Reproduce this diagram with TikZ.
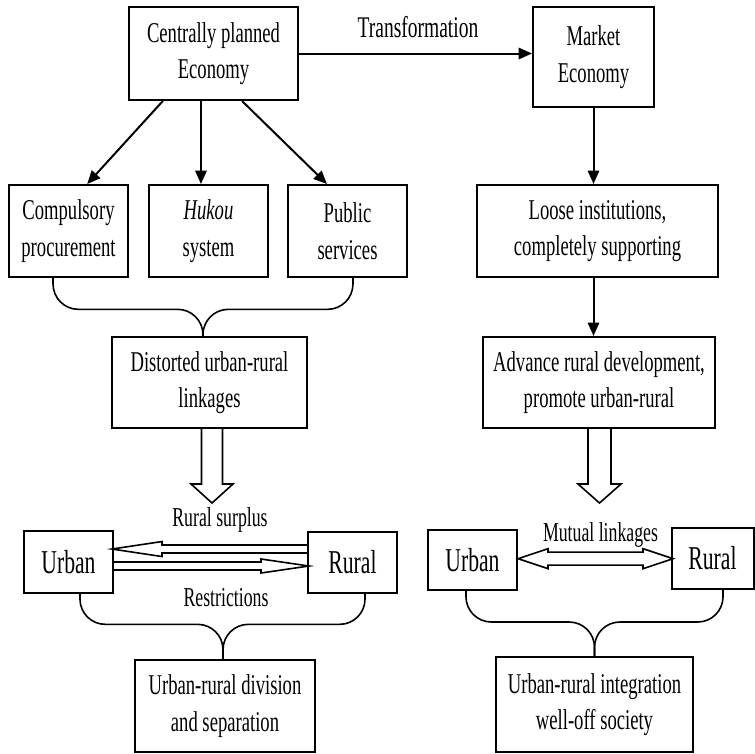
\documentclass[tikz,border=0pt]{standalone}
\usepackage{fontspec}
\setmainfont[FakeStretch=0.65]{Liberation Serif}
\usetikzlibrary{arrows.meta}

\tikzset{
  box/.style={draw, line width=1.5pt, align=center, inner sep=0pt,
    font=\fontsize{21.5}{27.5}\selectfont},
  place/.style={draw, line width=1.5pt, inner sep=0pt,
    minimum width=66.75pt, minimum height=46pt, font=\fontsize{25}{30}\selectfont},
  lbl/.style={anchor=base, inner sep=0pt, font=\fontsize{20.5}{24}\selectfont},
  arr/.style={line width=1.5pt, -{Triangle[length=10pt,width=8.5pt]}},
  brace/.style={line width=1.2pt, rounded corners=19pt},
  fat/.style={line width=1.2pt, line join=miter},
}

\begin{document}
\begin{tikzpicture}[x=0.75pt, y=-0.75pt]
\useasboundingbox (0,0) rectangle (755,753);

% top row
\node[box, minimum width=126.75pt, minimum height=69.75pt] (plan) at (213.5,53.5)
  {Centrally planned\\Economy};
\node[box, minimum width=90.75pt, minimum height=75pt] (market) at (593.5,57)
  {Market\\Economy};
\node[lbl, font=\fontsize{22.5}{26}\selectfont] (trans) at (418,37) {Transformation};

\draw[arr] (plan.east) -- (plan.east -| market.west);

% institutions
\node[box, minimum width=89.25pt, minimum height=69pt] (compul) at (68.5,231)
  {Compulsory\\procurement};
\node[box, minimum width=89.25pt, minimum height=69pt] (hukou) at (208.5,231)
  {\textit{Hukou}\\system};
\node[box, minimum width=89.25pt, minimum height=69pt] (public) at (347.5,231)
  {Public\\services};
\node[box, minimum width=180.75pt, minimum height=69pt] (loose) at (597.5,231)
  {Loose institutions,\\completely supporting};

\draw[arr] ([xshift=-38pt]plan.south) -- ([xshift=14pt]compul.north);
\draw[arr] ([xshift=-9.4pt]plan.south) -- ([xshift=-9.4pt]plan.south |- hukou.north);
\draw[arr] ([xshift=21.4pt]plan.south) -- ([xshift=-15.4pt]public.north);
\draw[arr] (market.south) -- (market.south |- loose.north);

% linkages
\node[box, minimum width=146.25pt, minimum height=68.25pt] (distort) at (209.5,382.5)
  {Distorted urban-rural\\linkages};
\node[box, minimum width=174pt, minimum height=68.25pt] (advance) at (599,382.5)
  {Advance rural development,\\promote urban-rural};

\draw[brace] ([xshift=-11.6pt]compul.south) |- ([xshift=-4.9pt,yshift=20pt]distort.north)
  -- ([xshift=-4.9pt]distort.north);
\draw[brace] ([xshift=4.1pt]public.south) |- ([xshift=-4.9pt,yshift=20pt]distort.north)
  -- ([xshift=-4.9pt]distort.north);
\draw[arr] (market.south |- loose.south) -- (market.south |- advance.north);

% hollow arrows down
\draw[fat] ([xshift=-6pt]distort.south) -- ++(0,55) -- ++(-10.5,0) -- ++(21,19)
  -- ++(21,-19) -- ++(-10.5,0) -- ++(0,-55);
\draw[fat] ([xshift=-8.25pt]advance.south) -- ++(0,55) -- ++(-10,0) -- ++(21.5,19)
  -- ++(21.5,-19) -- ++(-10,0) -- ++(0,-55);

% urban and rural
\node[place, minimum height=46.5pt] (urbanL) at (68.5,562) {Urban};
\node[place, minimum height=45.75pt] (ruralL) at (352.5,562.5) {Rural};
\node[place, minimum height=45pt] (urbanR) at (472.5,560) {Urban};
\node[place, minimum width=61.5pt, minimum height=45.75pt] (ruralR) at (712.5,558.5) {Rural};

\node[lbl] (surplus) at (220,526) {Rural surplus};
\node[lbl] (restr) at (226,606) {Restrictions};
\node[lbl] (mutual) at (600.5,541) {Mutual linkages};

\draw[fat] ([yshift=13.1pt]ruralL.west) -- ++(-145,0) -- ++(0,-3.5) -- ++(-50,7.5)
  -- ++(50,7.5) -- ++(0,-3.5) -- ++(145,0);
\draw[fat] (urbanL.east) -- ++(147,0) -- ++(0,-3) -- ++(48,7) -- ++(-48,7)
  -- ++(0,-3) -- ++(-147,0);
\draw[fat] ([yshift=1pt]urbanR.east) -- ++(30,-10) -- ++(0,3.5) -- ++(95,0) -- ++(0,-3.5)
  -- ++(30,10) -- ++(-30,10) -- ++(0,-3.5) -- ++(-95,0) -- ++(0,3.5) -- cycle;

% outcomes
\node[box, minimum width=135pt, minimum height=69pt] (divide) at (225,706)
  {Urban-rural division\\and separation};
\node[box, minimum width=147.75pt, minimum height=71.25pt] (integ) at (594.5,704.5)
  {Urban-rural integration\\well-off society};

\draw[brace] ([xshift=8.6pt]urbanL.south) |- ([xshift=-1.5pt,yshift=26pt]divide.north)
  -- ([xshift=-1.5pt]divide.north);
\draw[brace] ([xshift=9.4pt]ruralL.south) |- ([xshift=-1.5pt,yshift=26pt]divide.north)
  -- ([xshift=-1.5pt]divide.north);
\draw[brace] ([xshift=-4.9pt]urbanR.south) |- ([yshift=25.5pt]integ.north) -- (integ.north);
\draw[brace] ([xshift=7.9pt]ruralR.south) |- ([yshift=25.5pt]integ.north) -- (integ.north);
\end{tikzpicture}
\end{document}
